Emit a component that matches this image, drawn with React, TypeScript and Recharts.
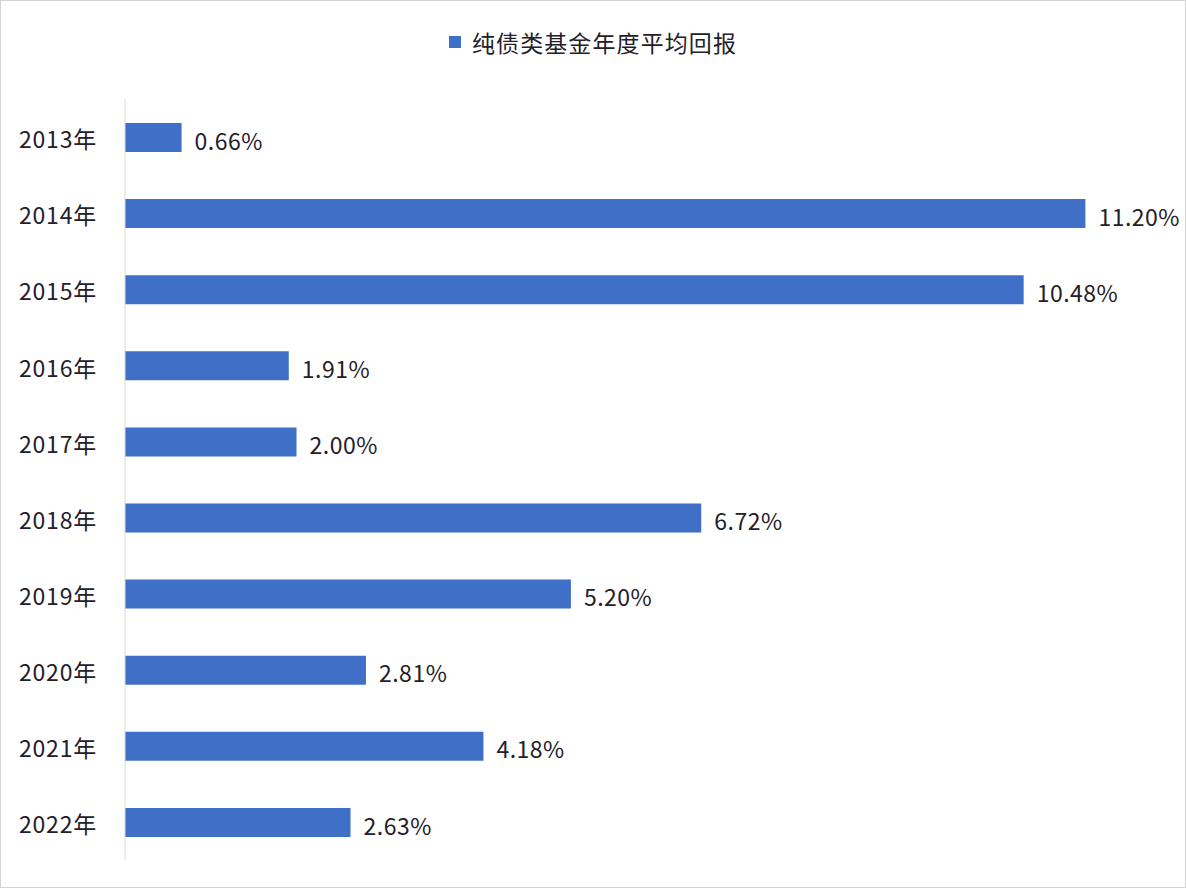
import { Bar, BarChart, LabelList, Legend, XAxis, YAxis } from "recharts";

const years = ["2013年", "2014年", "2015年", "2016年", "2017年", "2018年", "2019年", "2020年", "2021年", "2022年"];
const returns = [0.66, 11.2, 10.48, 1.91, 2.0, 6.72, 5.2, 2.81, 4.18, 2.63];
const seriesName = "纯债类基金年度平均回报";

const data = years.map((year, i) => ({ year, value: returns[i] }));

const FONT = '"Noto Sans CJK SC", "Noto Sans", sans-serif';
const BLUE = "#3F6FC6";
const TEXT = "#24202a";

function LegendContent() {
  return (
    <div
      style={{
        display: "flex",
        alignItems: "center",
        justifyContent: "center",
        fontFamily: FONT,
        fontSize: 23,
        color: TEXT,
      }}
    >
      <span style={{ width: 12, height: 12, background: BLUE, marginRight: 11, display: "inline-block" }} />
      <span style={{ letterSpacing: 1.1 }}>{seriesName}</span>
    </div>
  );
}

export default function App() {
  return (
    <div
      style={{
        position: "absolute",
        left: 0,
        top: 0,
        width: 1186,
        height: 888,
        background: "#ffffff",
        border: "1px solid #d4d4d4",
        boxSizing: "border-box",
      }}
    >
      <BarChart
        width={1184}
        height={886}
        data={data}
        layout="vertical"
        margin={{ top: 98, right: 31, left: 0, bottom: 27 }}
        style={{ fontFamily: FONT }}
      >
        <XAxis type="number" domain={[0, 12]} hide />
        <YAxis
          type="category"
          dataKey="year"
          width={124}
          axisLine={{ stroke: "#d9d9d9" }}
          tickLine={false}
          tickSize={0}
          tickMargin={28}
          tick={{ fill: TEXT, fontSize: 23, fontFamily: FONT, dy: 3, letterSpacing: 0.8 }}
        />
        <Legend
          verticalAlign="middle"
          align="center"
          wrapperStyle={{ top: 24, left: 0, width: 1184 }}
          content={<LegendContent />}
        />
        <Bar dataKey="value" name={seriesName} fill={BLUE} barSize={29} isAnimationActive={false}>
          <LabelList
            dataKey="value"
            position="right"
            offset={13}
            formatter={(v: number) => `${v.toFixed(2)}%`}
            style={{ fill: TEXT, fontSize: 23, fontFamily: FONT, transform: "translateY(4px)", letterSpacing: 0.5 }}
          />
        </Bar>
      </BarChart>
    </div>
  );
}
